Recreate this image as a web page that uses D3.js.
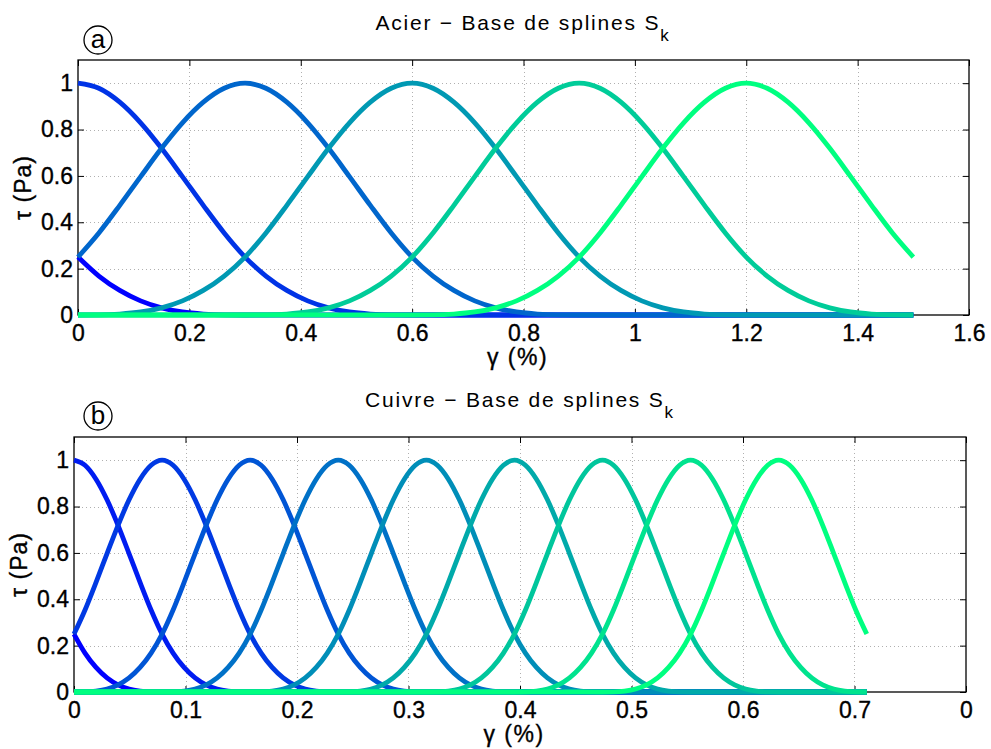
<!DOCTYPE html>
<html>
<head>
<meta charset="utf-8">
<script src="https://cdn.jsdelivr.net/npm/d3@7"></script>
<style>
  html, body { margin: 0; padding: 0; background: #fff; }
  svg { display: block; font-family: "Liberation Sans", Arial, Helvetica, sans-serif; }
  .heavy { stroke: #000; stroke-width: 0.35px; }
</style>
</head>
<body>
<svg id="chart" width="991" height="749"></svg>
<script>
// ---- Data ----
// Shape of one normalised spline S_k, sampled at offsets 0, 1/8, 2/8, ... 2 knot spacings from its centre
const splineProfile = [1, 0.978, 0.918, 0.829, 0.719, 0.597, 0.473, 0.354, 0.25, 0.168, 0.106, 0.061, 0.031, 0.013, 0.004, 0.0005, 0];

// Panel (a) — Acier
const steelTitle = "Acier − Base de splines S";
const steelCenters = [-0.3, 0, 0.3, 0.6, 0.9, 1.2];
const steelSpacing = 0.3;
const steelXMax = 1.5;
const steelXTicks = [0, 0.2, 0.4, 0.6, 0.8, 1, 1.2, 1.4, 1.6];
const steelXTickLabels = ["0", "0.2", "0.4", "0.6", "0.8", "1", "1.2", "1.4", "1.6"];

// Panel (b) — Cuivre
const copperTitle = "Cuivre − Base de splines S";
const copperCenters = [-0.079, 0, 0.079, 0.158, 0.237, 0.316, 0.395, 0.474, 0.553, 0.632];
const copperSpacing = 0.079;
const copperXMax = 0.711;
const copperXTicks = [0, 0.1, 0.2, 0.3, 0.4, 0.5, 0.6, 0.7, 0.8];
const copperXTickLabels = ["0", "0.1", "0.2", "0.3", "0.4", "0.5", "0.6", "0.7", "0"];

const yTicks = [0, 0.2, 0.4, 0.6, 0.8, 1];
const yTickLabels = ["0", "0.2", "0.4", "0.6", "0.8", "1"];

// ---- Drawing ----
const svg = d3.select("#chart");

function seriesPoints(center, h, xmax) {
  const n = splineProfile.length - 1; // 16 steps -> 2h
  const pts = [];
  for (let i = -n; i <= n; i++) {
    const x = +(center + (i / (n / 2)) * h).toFixed(6);
    const y = splineProfile[Math.abs(i)];
    if (x >= -1e-9 && x <= xmax + 1e-9) pts.push([Math.max(0, Math.min(xmax, x)), y]);
  }
  if (center - 2 * h > 0) pts.unshift([0, 0]);
  if (center + 2 * h < xmax) pts.push([xmax, 0]);
  pts.sort((a, b) => a[0] - b[0]);
  return pts;
}

function panel(cfg) {
  const { left, right, top, bottom, xDomain, centers, h, xmax, xTicks, xTickLabels, title, letter, letterPos, titleX } = cfg;
  const x = d3.scaleLinear().domain(xDomain).range([left, right]);
  const y = d3.scaleLinear().domain([0, 1.1]).range([bottom, top]);
  const g = svg.append("g");

  // grid
  const grid = g.append("g").attr("stroke", "#b0b0b0").attr("stroke-width", 1).attr("stroke-dasharray", "1,3");
  xTicks.slice(1, -1).forEach(v => {
    grid.append("line").attr("x1", Math.round(x(v)) + 0.5).attr("x2", Math.round(x(v)) + 0.5).attr("y1", top).attr("y2", bottom);
  });
  yTicks.slice(1).forEach(v => {
    grid.append("line").attr("x1", left).attr("x2", right).attr("y1", Math.round(y(v)) + 0.5).attr("y2", Math.round(y(v)) + 0.5);
  });

  // axes with inward ticks on four sides
  const tl = 6;
  const xb = d3.axisBottom(x).tickValues(xTicks).tickSizeInner(-tl).tickSizeOuter(0).tickFormat((d, i) => xTickLabels[i]).tickPadding(10);
  const xt = d3.axisTop(x).tickValues(xTicks).tickSizeInner(-tl).tickSizeOuter(0).tickFormat("");
  const yl = d3.axisLeft(y).tickValues(yTicks).tickSizeInner(-tl).tickSizeOuter(0).tickFormat((d, i) => yTickLabels[i]).tickPadding(5);
  const yr = d3.axisRight(y).tickValues(yTicks).tickSizeInner(-tl).tickSizeOuter(0).tickFormat("");
  [[xb, `translate(0,${bottom})`], [xt, `translate(0,${top})`], [yl, `translate(${left},0)`], [yr, `translate(${right},0)`]].forEach(([ax, tr]) => {
    const a = g.append("g").attr("transform", tr).call(ax);
    a.select(".domain").remove();
    a.selectAll("line").attr("stroke", "#000");
    a.selectAll("text").attr("fill", "#000").attr("class", "heavy").style("font-size", "23px");
  });

  // box
  g.append("rect").attr("x", left).attr("y", top).attr("width", right - left).attr("height", bottom - top)
    .attr("fill", "none").attr("stroke", "#000").attr("stroke-width", 1.3);

  // curves
  const color = d3.scaleLinear().domain([0, centers.length - 1]).range(["#0000ff", "#00ff80"]).interpolate(d3.interpolateRgb);
  const line = d3.line().x(d => x(d[0])).y(d => y(d[1])).curve(d3.curveMonotoneX);
  centers.forEach((c, i) => {
    g.append("path").datum(seriesPoints(c, h, xmax))
      .attr("d", line).attr("fill", "none").attr("stroke", color(i)).attr("stroke-width", 4.8)
      .attr("stroke-linejoin", "round");
  });

  // title
  const t = g.append("text").attr("x", titleX).attr("y", top - 30).attr("text-anchor", "middle")
    .style("font-size", "21px").style("letter-spacing", "1.8px").attr("fill", "#000");
  t.append("tspan").text(title);
  t.append("tspan").attr("dy", 11).style("font-size", "17px").text("k");

  // axis labels
  g.append("text").attr("x", (left + right) / 2 - 6).attr("y", bottom + 50).attr("class", "heavy")
    .attr("text-anchor", "middle").style("font-size", "23px").style("letter-spacing", "1.5px").text("γ (%)");
  g.append("text").attr("transform", `translate(${left - 47},${(top + bottom) / 2}) rotate(-90)`).attr("class", "heavy")
    .attr("text-anchor", "middle").style("font-size", "23px").style("letter-spacing", "1px").text("τ (Pa)");

  // panel letter
  g.append("circle").attr("cx", letterPos[0]).attr("cy", letterPos[1]).attr("r", 14).attr("fill", "none").attr("stroke", "#000").attr("stroke-width", 1.3);
  g.append("text").attr("x", letterPos[0]).attr("y", letterPos[1] + 8).attr("text-anchor", "middle").style("font-size", "26px").text(letter);
}

panel({ left: 78, right: 969, top: 60, bottom: 315, xDomain: [0, 1.6], centers: steelCenters, h: steelSpacing, xmax: steelXMax,
  xTicks: steelXTicks, xTickLabels: steelXTickLabels, title: steelTitle, letter: "a", letterPos: [98, 40], titleX: 523 });
panel({ left: 74, right: 966, top: 437, bottom: 692, xDomain: [0, 0.8], centers: copperCenters, h: copperSpacing, xmax: copperXMax,
  xTicks: copperXTicks, xTickLabels: copperXTickLabels, title: copperTitle, letter: "b", letterPos: [98, 416], titleX: 520 });
</script>
</body>
</html>
